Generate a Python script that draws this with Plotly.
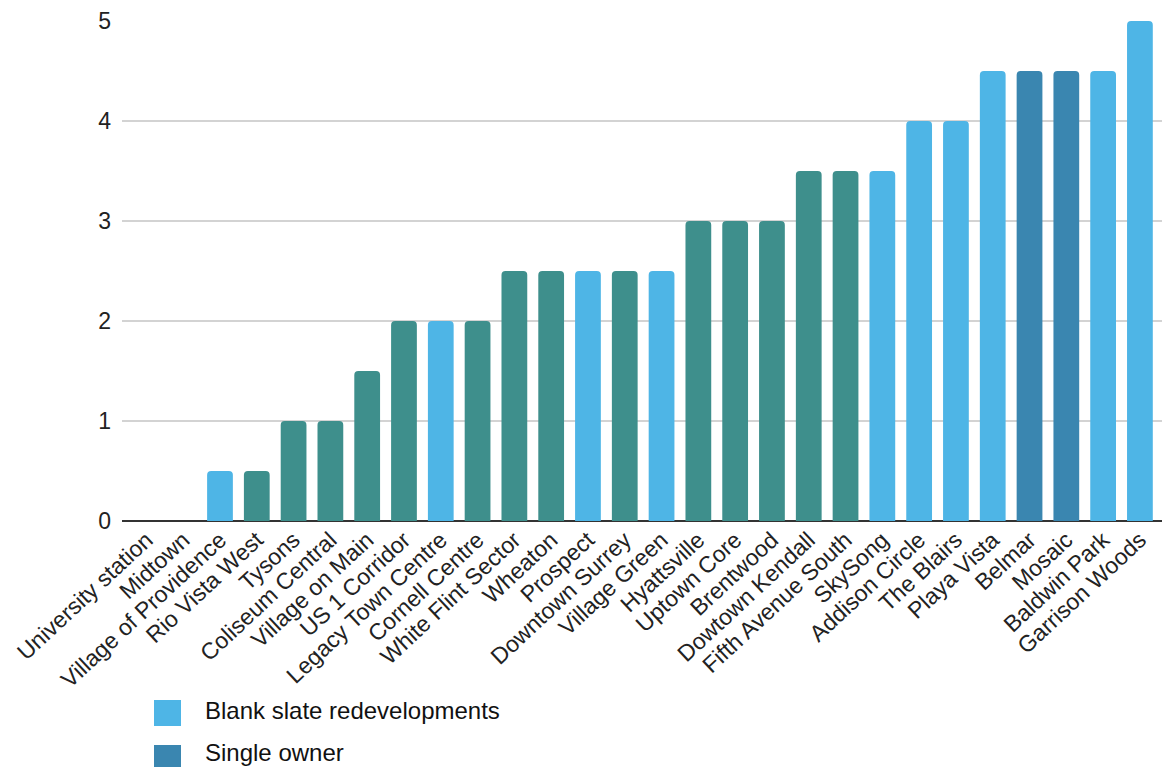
import plotly.graph_objects as go

# Town centres and their scores, ordered low to high
categories = [
    "University station", "Midtown", "Village of Providence", "Rio Vista West",
    "Tysons", "Coliseum Central", "Village on Main", "US 1 Corridor",
    "Legacy Town Centre", "Cornell Centre", "White Flint Sector", "Wheaton",
    "Prospect", "Downtown Surrey", "Village Green", "Hyattsville",
    "Uptown Core", "Brentwood", "Dowtown Kendall", "Fifth Avenue South",
    "SkySong", "Addison Circle", "The Blairs", "Playa Vista", "Belmar",
    "Mosaic", "Baldwin Park", "Garrison Woods",
]
values = [
    0, 0, 0.5, 0.5,
    1, 1, 1.5, 2,
    2, 2, 2.5, 2.5,
    2.5, 2.5, 2.5, 3,
    3, 3, 3.5, 3.5,
    3.5, 4, 4, 4.5, 4.5,
    4.5, 4.5, 5,
]
groups = [
    "other", "other", "blank", "other",
    "other", "other", "other", "other",
    "blank", "other", "other", "other",
    "blank", "other", "blank", "other",
    "other", "other", "other", "other",
    "blank", "blank", "blank", "blank", "single",
    "single", "blank", "blank",
]

group_colors = {"blank": "#4EB5E6", "single": "#3A86B0", "other": "#3E8F8C"}
legend_entries = [("blank", "Blank slate redevelopments"), ("single", "Single owner")]

FONT = "Liberation Sans, Arial, sans-serif"
W, H = 1162, 767
M_L, M_R, M_T, M_B = 122, 0, 21, 246

fig = go.Figure(
    go.Bar(
        x=categories,
        y=values,
        marker=dict(color=[group_colors[g] for g in groups], line=dict(width=0)),
        showlegend=False,
        hoverinfo="x+y",
    )
)

fig.update_layout(
    width=W,
    height=H,
    margin=dict(l=M_L, r=M_R, t=M_T, b=M_B, pad=0),
    paper_bgcolor="white",
    plot_bgcolor="white",
    bargap=0.3,
    barcornerradius=4,
    font=dict(family=FONT, size=23, color="#222222"),
    showlegend=False,
)

fig.update_xaxes(
    categoryorder="array",
    categoryarray=categories,
    range=[-0.663, 27.6],
    tickangle=-43,
    showgrid=False,
    showline=False,
    ticks="",
    tickfont=dict(family=FONT, size=23, color="#222222"),
)
fig.update_yaxes(
    range=[0, 5],
    tickvals=[0, 1, 2, 3, 4, 5],
    showgrid=True,
    gridcolor="#D3D3D3",
    gridwidth=1.5,
    zeroline=True,
    zerolinecolor="#333333",
    zerolinewidth=2,
    showline=False,
    ticks="",
    ticklabelstandoff=10,
    tickfont=dict(family=FONT, size=23, color="#222222"),
)

# Legend drawn as colour swatches with labels beneath the axis
plot_h = H - M_T - M_B
plot_w = W - M_L - M_R


def px_to_paper_x(px):
    return (px - M_L) / plot_w


def px_to_paper_y(py):
    return (H - M_B - py) / plot_h


swatch_top = [700, 745]
label_mid = [710, 752]
for (key, label), top, mid in zip(legend_entries, swatch_top, label_mid):
    fig.add_shape(
        type="rect",
        xref="paper", yref="paper",
        x0=px_to_paper_x(154), x1=px_to_paper_x(181),
        y0=px_to_paper_y(top), y1=px_to_paper_y(top + 26),
        fillcolor=group_colors[key],
        line=dict(width=0),
        layer="above",
    )
    fig.add_annotation(
        xref="paper", yref="paper",
        x=px_to_paper_x(203), y=px_to_paper_y(mid),
        xanchor="left", yanchor="middle",
        text=label,
        showarrow=False,
        font=dict(family=FONT, size=24, color="#111111"),
    )

fig.write_html("out.html")
